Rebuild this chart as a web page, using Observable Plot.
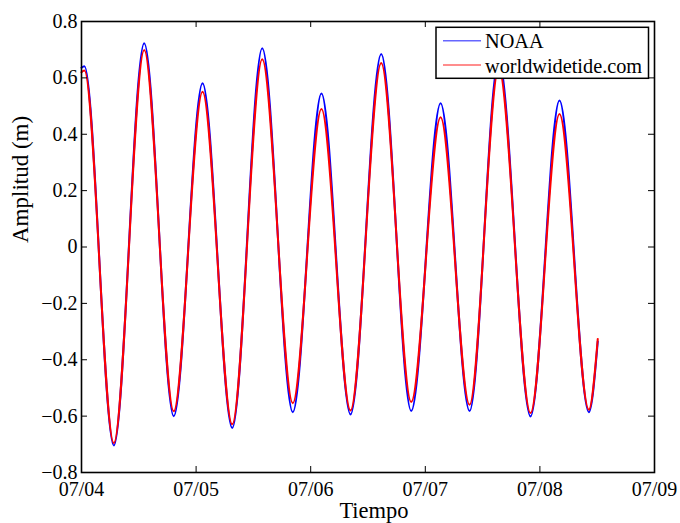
<!DOCTYPE html>
<html><head><meta charset="utf-8">
<script src="https://cdn.jsdelivr.net/npm/d3@7"></script>
<script src="https://cdn.jsdelivr.net/npm/@observablehq/plot@0.6"></script>
<style>
body{margin:0;background:#fff;}
#wrap{position:relative;width:680px;height:523px;}
#wrap svg{display:block;}
#wrap svg text{font-family:'Liberation Serif','Times New Roman',serif;}
#legend{position:absolute;left:0;top:0;pointer-events:none;}
</style></head>
<body><div id="wrap"></div>
<script>
// Times of tidal extrema (UTC)
const times = [
  "2012-07-04T00:00","2012-07-04T00:37","2012-07-04T06:46","2012-07-04T13:08","2012-07-04T19:19",
  "2012-07-05T01:21","2012-07-05T07:34","2012-07-05T13:51","2012-07-05T20:15",
  "2012-07-06T02:15","2012-07-06T08:20","2012-07-06T14:46","2012-07-06T21:03",
  "2012-07-07T03:12","2012-07-07T09:16","2012-07-07T15:23","2012-07-07T22:02",
  "2012-07-08T04:06","2012-07-08T10:15","2012-07-08T12:07"
];
const noaa = [0.636,0.641,-0.704,0.723,-0.600,0.581,-0.642,0.705,-0.586,0.545,-0.594,0.685,-0.582,0.510,-0.582,0.665,-0.601,0.520,-0.586,-0.335];
const worldwidetide = [0.620,0.626,-0.696,0.699,-0.583,0.551,-0.629,0.666,-0.554,0.490,-0.580,0.653,-0.550,0.460,-0.560,0.635,-0.589,0.472,-0.577,-0.326];
const seriesNames = ["NOAA","worldwidetide.com"];
const seriesColors = ["#0000ff","#ff0000"];
const xTickLabels = ["2012-07-04","2012-07-05","2012-07-06","2012-07-07","2012-07-08","2012-07-09"];
const yTicks = [-0.8,-0.6,-0.4,-0.2,0,0.2,0.4,0.6,0.8];
const xLabel = "Tiempo";
const yLabel = "Amplitud (m)";

const W = 680, H = 523;
const mL = 81, mR = 26, mT = 21, mB = 51;
const plotW = W - mL - mR, plotH = H - mT - mB;
const font = "'Liberation Serif', 'Times New Roman', serif";

const toDate = s => new Date(s + (s.length > 10 ? ":00Z" : "T00:00:00Z"));
const noaaData = times.map((t, i) => ({time: toDate(t), value: noaa[i]}));
const wwtData = times.map((t, i) => ({time: toDate(t), value: worldwidetide[i]}));
const xTicks = xTickLabels.map(toDate);

const chart = Plot.plot({
  width: W, height: H,
  marginLeft: mL, marginRight: mR, marginTop: mT, marginBottom: mB,
  style: {fontFamily: font, fontSize: "20px", background: "#fff", color: "#000"},
  x: {type: "utc", domain: [xTicks[0], xTicks[xTicks.length - 1]]},
  y: {domain: [-0.8, 0.8]},
  marks: [
    Plot.line(noaaData, {x: "time", y: "value", stroke: seriesColors[0], strokeWidth: 2, curve: "monotone-x"}),
    Plot.line(wwtData, {x: "time", y: "value", stroke: seriesColors[1], strokeWidth: 2, curve: "monotone-x"}),
    Plot.tickX(xTicks, {x: d => d, insetTop: plotH - 6, stroke: "#000", strokeWidth: 1}),
    Plot.tickX(xTicks, {x: d => d, insetBottom: plotH - 6, stroke: "#000", strokeWidth: 1}),
    Plot.tickY(yTicks, {y: d => d, insetRight: plotW - 6, stroke: "#000", strokeWidth: 1}),
    Plot.tickY(yTicks, {y: d => d, insetLeft: plotW - 6, stroke: "#000", strokeWidth: 1}),
    Plot.frame({stroke: "#000", strokeWidth: 1.6}),
    Plot.axisX(xTicks, {tickSize: 0, tickPadding: 9, tickFormat: d3.utcFormat("%m/%d"), label: null, fontSize: 20, fontFamily: font, fill: "#000"}),
    Plot.axisY(yTicks, {tickSize: 0, tickPadding: 4, tickFormat: d => d === 0 ? "0" : d3.format(".1f")(d).replace("-", "\u2212"), label: null, fontSize: 20, fontFamily: font, fill: "#000"}),
    Plot.text([xLabel], {text: d => d, frameAnchor: "bottom", lineAnchor: "bottom", dy: 45, dx: 6, fontSize: 22.5, fontFamily: font, fill: "#000"}),
    Plot.text([yLabel], {text: d => d, frameAnchor: "left", lineAnchor: "bottom", rotate: -90, dx: -54, dy: -4, fontSize: 23, fontFamily: font, fill: "#000"})
  ]
});
const wrap = document.getElementById("wrap");
wrap.appendChild(chart);

// Legend overlay
const ns = "http://www.w3.org/2000/svg";
const leg = document.createElementNS(ns, "svg");
leg.setAttribute("id", "legend");
leg.setAttribute("width", W);
leg.setAttribute("height", H);
const mk = (tag, attrs, txt) => {
  const e = document.createElementNS(ns, tag);
  for (const k in attrs) e.setAttribute(k, attrs[k]);
  if (txt) e.textContent = txt;
  leg.appendChild(e);
  return e;
};
mk("rect", {x: 436, y: 27.3, width: 212.5, height: 51, fill: "#fff", stroke: "#000", "stroke-width": 1.5});
seriesNames.forEach((name, i) => {
  const yl = 40.7 + i * 24.3;
  mk("line", {x1: 443, x2: 481, y1: yl, y2: yl, stroke: seriesColors[i], "stroke-width": 1.5, "stroke-opacity": 0.6});
  mk("text", {x: 485, y: yl + 7.6, "font-family": font, "font-size": 20.3, fill: "#000"}, name);
});
wrap.appendChild(leg);
</script>
</body></html>
